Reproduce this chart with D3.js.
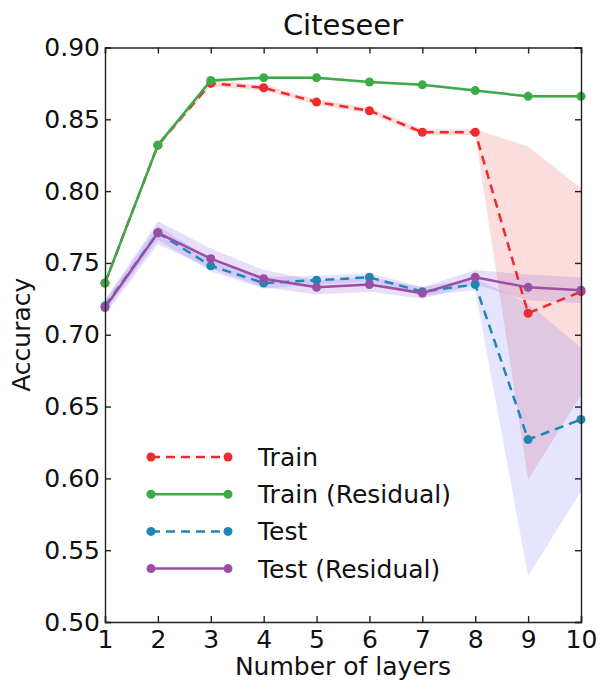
<!DOCTYPE html>
<html lang="en">
<head>
  <meta charset="UTF-8">
  <title>Citeseer</title>
  <script src="https://d3js.org/d3.v7.min.js"></script>
  <style>
    body {
      margin: 0;
      padding: 0;
      background: #fff;
      font-family: "DejaVu Sans", sans-serif;
    }
    .axis text {
      font-family: "DejaVu Sans", sans-serif;
      font-size: 25px;
      fill: #111;
    }
    .axis path, .axis line {
      stroke: #222;
      stroke-width: 1.4;
    }
  </style>
</head>
<body>
  <div id="chart"></div>
  <script>
    // x values: number of layers
    const layers = [1, 2, 3, 4, 5, 6, 7, 8, 9, 10];

    // mean accuracies per series
    const trainAcc    = [0.736, 0.832, 0.875, 0.872, 0.862, 0.856, 0.841, 0.841, 0.715, 0.730];
    const trainResAcc = [0.736, 0.832, 0.877, 0.879, 0.879, 0.876, 0.874, 0.870, 0.866, 0.866];
    const testAcc     = [0.720, 0.771, 0.748, 0.736, 0.738, 0.740, 0.730, 0.735, 0.627, 0.641];
    const testResAcc  = [0.719, 0.771, 0.753, 0.739, 0.733, 0.735, 0.729, 0.740, 0.733, 0.731];

    // spread (shaded band half-width)
    const trainStd    = [0.002, 0.002, 0.002, 0.002, 0.002, 0.002, 0.002, 0.002, 0.116, 0.072];
    const trainResStd = [0.001, 0.001, 0.001, 0.001, 0.001, 0.001, 0.001, 0.001, 0.001, 0.001];
    const testStd     = [0.004, 0.005, 0.004, 0.004, 0.003, 0.003, 0.003, 0.004, 0.095, 0.050];
    const testResStd  = [0.005, 0.008, 0.007, 0.006, 0.005, 0.005, 0.004, 0.005, 0.009, 0.009];

    const seriesNames = ["Train", "Train (Residual)", "Test", "Test (Residual)"];
    const yTicks = [0.50, 0.55, 0.60, 0.65, 0.70, 0.75, 0.80, 0.85, 0.90];

    const width = 601, height = 685;
    const margin = {top: 47.5, right: 20, bottom: 63, left: 105};

    const series = [
      {name: seriesNames[0], mean: trainAcc, std: trainStd, color: "#ee2a2e", band: "#e41a1c", bandOpacity: 0.15, dash: "9,6"},
      {name: seriesNames[1], mean: trainResAcc, std: trainResStd, color: "#3aab48", band: "#3aab48", bandOpacity: 0.15, dash: null},
      {name: seriesNames[2], mean: testAcc, std: testStd, color: "#1f86b4", band: "#5c5cff", bandOpacity: 0.16, dash: "9,6"},
      {name: seriesNames[3], mean: testResAcc, std: testResStd, color: "#9a4fa3", band: "#8a5cd0", bandOpacity: 0.2, dash: null}
    ];

    const svg = d3.select("#chart")
      .append("svg")
      .attr("width", width)
      .attr("height", height);

    const x = d3.scaleLinear().domain([1, 10]).range([margin.left, width - margin.right]);
    const y = d3.scaleLinear().domain([0.5, 0.9]).range([height - margin.bottom, margin.top]);

    // shaded bands
    const area = d3.area()
      .x((d, i) => x(layers[i]))
      .y0(d => y(d[0] - d[1]))
      .y1(d => y(d[0] + d[1]));

    series.forEach(s => {
      svg.append("path")
        .datum(s.mean.map((m, i) => [m, s.std[i]]))
        .attr("d", area)
        .attr("fill", s.band)
        .attr("fill-opacity", s.bandOpacity)
        .attr("stroke", "none");
    });

    // lines + markers
    const line = d3.line()
      .x((d, i) => x(layers[i]))
      .y(d => y(d));

    series.forEach(s => {
      svg.append("path")
        .datum(s.mean)
        .attr("d", line)
        .attr("fill", "none")
        .attr("stroke", s.color)
        .attr("stroke-width", 2.5)
        .attr("stroke-dasharray", s.dash);
      svg.selectAll(null)
        .data(s.mean)
        .join("circle")
        .attr("cx", (d, i) => x(layers[i]))
        .attr("cy", d => y(d))
        .attr("r", 4.5)
        .attr("fill", s.color);
    });

    // axes, ticks pointing inward on all four sides
    const plotBottom = height - margin.bottom;
    const plotRight = width - margin.right;

    svg.append("g")
      .attr("class", "axis")
      .attr("transform", `translate(0,${plotBottom})`)
      .call(d3.axisBottom(x).tickValues(layers).tickSize(-6).tickPadding(8).tickFormat(d3.format("d")));

    svg.append("g")
      .attr("class", "axis")
      .attr("transform", `translate(0,${margin.top})`)
      .call(d3.axisTop(x).tickValues(layers).tickSize(-6).tickFormat(""));

    svg.append("g")
      .attr("class", "axis")
      .attr("transform", `translate(${margin.left},0)`)
      .call(d3.axisLeft(y).tickValues(yTicks).tickSize(-6).tickPadding(5).tickFormat(d3.format(".2f")));

    svg.append("g")
      .attr("class", "axis")
      .attr("transform", `translate(${plotRight},0)`)
      .call(d3.axisRight(y).tickValues(yTicks).tickSize(-6).tickFormat(""));

    // title and axis labels
    svg.append("text")
      .attr("x", (margin.left + plotRight) / 2)
      .attr("y", 35)
      .attr("text-anchor", "middle")
      .style("font-size", "29px")
      .style("fill", "#111")
      .text("Citeseer");

    svg.append("text")
      .attr("x", (margin.left + plotRight) / 2)
      .attr("y", 675)
      .attr("text-anchor", "middle")
      .style("font-size", "25px")
      .style("fill", "#111")
      .text("Number of layers");

    svg.append("text")
      .attr("transform", `translate(30,${(margin.top + plotBottom) / 2}) rotate(-90)`)
      .attr("text-anchor", "middle")
      .style("font-size", "25px")
      .style("fill", "#111")
      .text("Accuracy");

    // legend
    const legend = svg.append("g").attr("transform", "translate(151,457)");
    series.forEach((s, i) => {
      const row = legend.append("g").attr("transform", `translate(0,${i * 37.2})`);
      row.append("line")
        .attr("x1", 0).attr("x2", 77)
        .attr("stroke", s.color)
        .attr("stroke-width", 2.5)
        .attr("stroke-dasharray", s.dash);
      row.selectAll("circle")
        .data([0, 77])
        .join("circle")
        .attr("cx", d => d)
        .attr("r", 4.5)
        .attr("fill", s.color);
      row.append("text")
        .attr("x", 107)
        .attr("y", 9)
        .style("font-size", "25px")
        .style("fill", "#111")
        .text(s.name);
    });
  </script>
</body>
</html>
